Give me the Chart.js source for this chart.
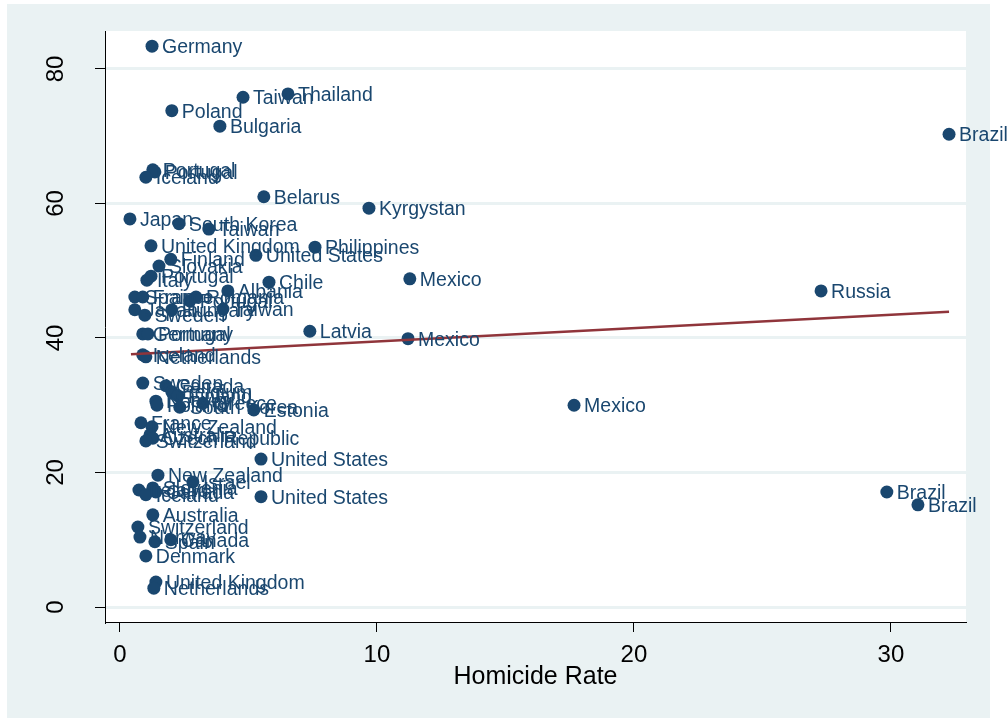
<!DOCTYPE html>
<html>
<head>
<meta charset="utf-8">
<script src="https://cdn.jsdelivr.net/npm/chart.js@4"></script>
<style>
  html, body { margin: 0; padding: 0; background: #fff; }
  #wrap { width: 1008px; height: 719px; }
</style>
</head>
<body>
<div id="wrap"><canvas id="myChart" width="1008" height="719"></canvas></div>
<script>
// data
const countries = [
  'Germany','Taiwan','Thailand','Poland','Bulgaria','Brazil','Portugal','Portugal','Iceland','Belarus',
  'Kyrgystan','Japan','South Korea','Taiwan','United Kingdom','Philippines','United States','Finland','Slovakia','Portugal',
  'Italy','Chile','Mexico','Albania','Russia','Spain','France','Portugal','Romania','Japan',
  'Sweden','Hungary','Taiwan','Germany','Portugal','Latvia','Mexico','Iceland','Netherlands','Sweden',
  'Canada','Belgium','Finland','Norway','Poland','South Korea','Greece','Estonia','Mexico','France',
  'New Zealand','Australia','Czech Republic','Switzerland','United States','New Zealand','Israel','Ireland','Slovenia','Canada',
  'Iceland','United States','Brazil','Brazil','Australia','Switzerland','Norway','Spain','Canada','Denmark',
  'United Kingdom','Netherlands'
]
const homicide = [
  1.25,4.79,6.54,2.02,3.89,32.26,1.28,1.36,1.01,5.60,
  9.69,0.39,2.30,3.46,1.21,7.59,5.29,1.98,1.52,1.21,
  1.05,5.80,11.28,4.20,27.28,0.58,0.89,2.72,2.96,0.58,
  0.97,2.02,4.01,0.89,1.09,7.39,11.21,0.89,1.01,0.89,
  1.79,2.02,2.26,1.40,1.44,2.33,3.23,5.21,17.67,0.82,
  1.25,1.17,1.28,1.01,5.49,1.48,2.84,0.74,1.28,1.40,
  1.01,5.49,29.84,31.05,1.28,0.70,0.78,1.36,1.98,1.01,
  1.40,1.32
]
const yValues = [
  83.4,75.8,76.3,73.8,71.5,70.3,65.0,64.7,63.9,61.0,
  59.3,57.7,57.0,56.2,53.7,53.5,52.3,51.7,50.7,49.2,
  48.6,48.3,48.8,47.0,47.0,46.1,46.1,45.5,46.1,44.2,
  43.4,44.2,44.3,40.6,40.6,41.0,39.9,37.5,37.2,33.3,
  32.9,32.0,31.4,30.6,30.0,29.7,30.3,29.3,30.0,27.4,
  26.8,25.6,25.1,24.7,22.0,19.6,18.6,17.4,17.7,17.1,
  16.7,16.4,17.1,15.2,13.7,11.9,10.4,9.7,10.0,7.6,
  3.7,2.8
]
const fitX = [0.43, 32.26]
const fitY = [37.6, 43.9]
const xTicks = [0, 10, 20, 30]
const yTicks = [0, 20, 40, 60, 80]

const navy = '#1a476f'
const frameBg = '#eaf2f3'

const backdrop = {
  id: 'backdrop',
  beforeDraw(chart) {
    const ctx = chart.ctx
    const a = chart.chartArea
    ctx.save()
    ctx.fillStyle = frameBg
    ctx.fillRect(7, 4, 983, 714)
    ctx.fillStyle = '#fff'
    ctx.fillRect(a.left, a.top, a.right - a.left, a.bottom - a.top)
    ctx.restore()
  }
}

const pointNames = {
  id: 'pointNames',
  afterDatasetsDraw(chart) {
    const ctx = chart.ctx
    const xs = chart.scales.x, ys = chart.scales.y
    ctx.save()
    ctx.font = '19.5px "Liberation Sans", Arial, sans-serif'
    ctx.fillStyle = navy
    ctx.textBaseline = 'middle'
    ctx.textAlign = 'left'
    countries.forEach((c, i) => {
      ctx.fillText(c, xs.getPixelForValue(homicide[i]) + 10, ys.getPixelForValue(yValues[i]) + 1.5)
    })
    // rotated y tick labels
    ctx.font = '24px "Liberation Sans", Arial, sans-serif'
    ctx.fillStyle = '#000'
    ctx.textAlign = 'center'
    yTicks.forEach(v => {
      ctx.save()
      ctx.translate(56, ys.getPixelForValue(v))
      ctx.rotate(-Math.PI / 2)
      ctx.fillText(String(v), 0, 0)
      ctx.restore()
    })
    ctx.restore()
  }
}

const canvas = document.getElementById('myChart')
new Chart(canvas, {
  type: 'scatter',
  data: {
    datasets: [{
      label: 'fit',
      type: 'line',
      data: fitX.map((x, i) => ({ x: x, y: fitY[i] })),
      borderColor: '#90353b',
      borderWidth: 2.5,
      pointRadius: 0,
      fill: false,
      order: 0
    }, {
      label: 'countries',
      data: homicide.map((x, i) => ({ x: x, y: yValues[i] })),
      backgroundColor: navy,
      borderWidth: 0,
      pointRadius: 6.5,
      order: 1
    }]
  },
  options: {
    responsive: false,
    animation: false,
    events: [],
    layout: { padding: { top: 31, right: 42, bottom: 0, left: 0 } },
    plugins: { legend: { display: false }, tooltip: { enabled: false } },
    scales: {
      x: {
        type: 'linear',
        min: -0.58,
        max: 32.92,
        afterBuildTicks: s => { s.ticks = xTicks.map(v => ({ value: v })) },
        afterFit: s => { s.height = 97 },
        border: { color: '#000', width: 1 },
        grid: { drawOnChartArea: false, tickColor: '#000', tickLength: 10, tickWidth: 1 },
        ticks: {
          color: '#000',
          padding: 9,
          maxRotation: 0,
          font: { family: '"Liberation Sans", Arial, sans-serif', size: 24 }
        },
        title: {
          display: true,
          text: 'Homicide Rate',
          color: '#000',
          padding: { top: 0, bottom: 27 },
          font: { family: '"Liberation Sans", Arial, sans-serif', size: 25 }
        }
      },
      y: {
        type: 'linear',
        min: -2.23,
        max: 85.65,
        afterBuildTicks: s => { s.ticks = yTicks.map(v => ({ value: v })) },
        afterFit: s => { s.width = 105 },
        border: { color: '#000', width: 1 },
        grid: { color: frameBg, lineWidth: 3, tickColor: '#000', tickLength: 10, tickWidth: 1 },
        ticks: { display: false }
      }
    }
  },
  plugins: [backdrop, pointNames]
})
</script>
</body>
</html>
